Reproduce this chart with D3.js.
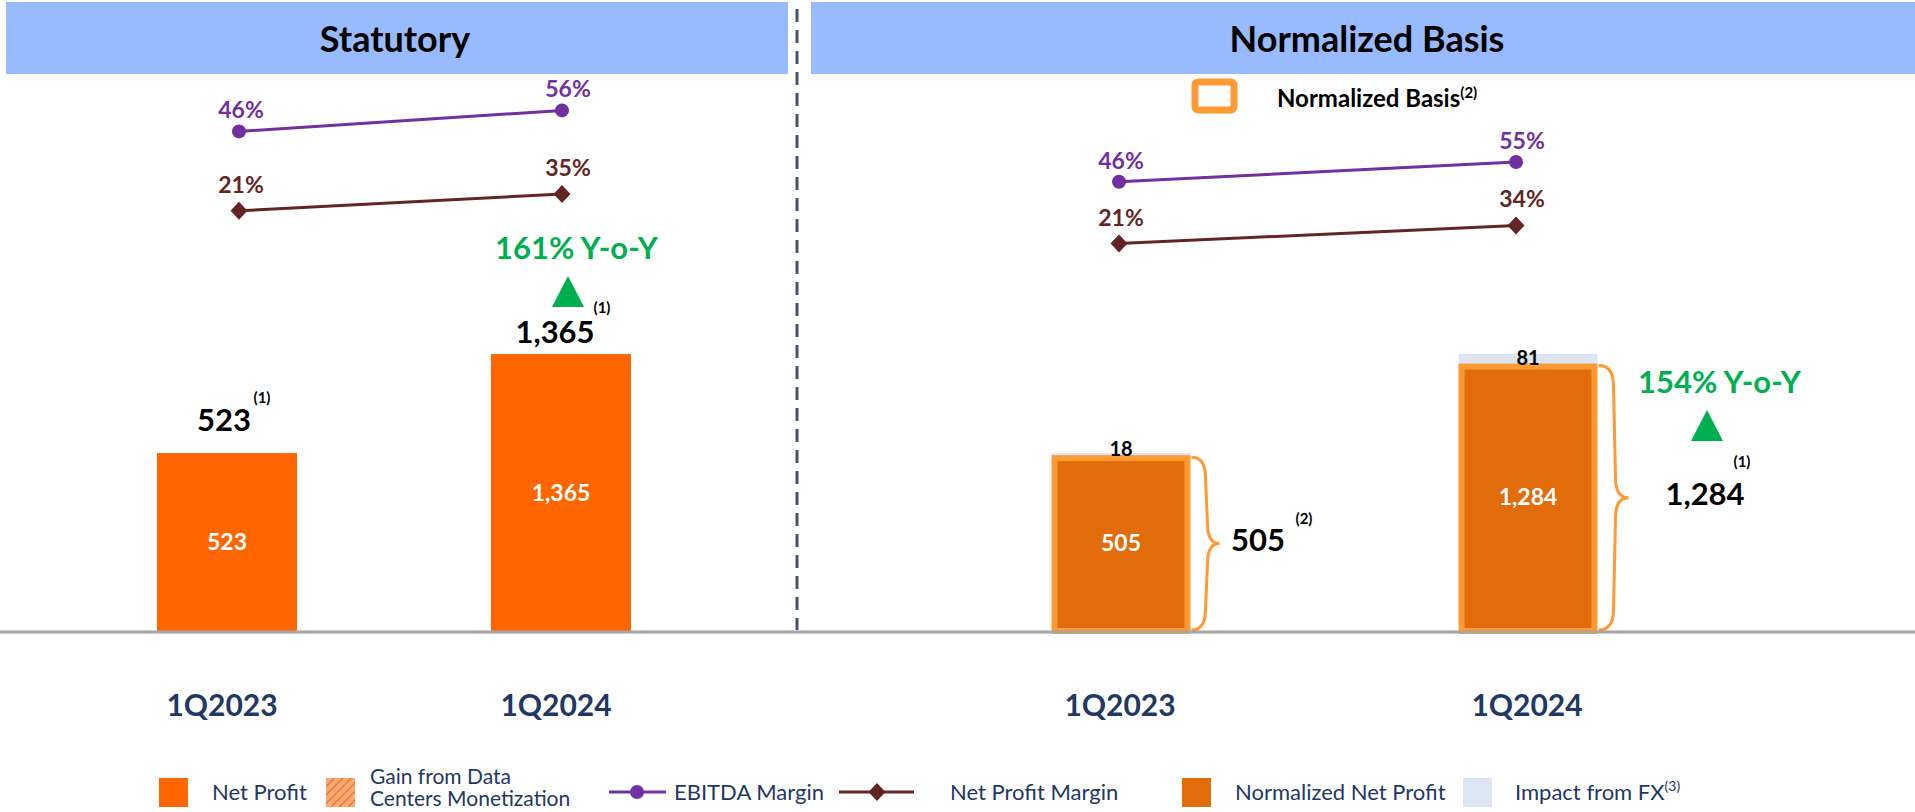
<!DOCTYPE html>
<html>
<head>
<meta charset="utf-8">
<script src="https://cdn.jsdelivr.net/npm/d3@7"></script>
<style>
  html, body { margin: 0; padding: 0; background: #fff; }
  svg { display: block; font-family: Lato, "Noto Sans", sans-serif; }
</style>
</head>
<body>
<div id="root"></div>
<script>
const WIDTH = 1915;
const HEIGHT = 812;
const BASE_Y = 631;

// data
const periods = ["1Q2023", "1Q2024"];
const netProfit = [523, 1365];
const normalizedNetProfit = [505, 1284];
const fxImpact = [18, 81];
const ebitdaStat = [46, 56];
const npMarginStat = [21, 35];
const ebitdaNorm = [46, 55];
const npMarginNorm = [21, 34];
const panelTitles = ["Statutory", "Normalized Basis"];
const yoyLabels = ["161% Y-o-Y", "154% Y-o-Y"];

const C = {
  band: "#98BAFE",
  orange: "#FF6600",
  normFill: "#E36C0A",
  normEdge: "#FF9A35",
  fx: "#DCE6F2",
  purple: "#7030A0",
  maroon: "#632523",
  green: "#00B050",
  navy: "#1F3864",
  axis: "#A6A6A6",
  divider: "#44546A"
};

const fmt = d3.format(",");

const svg = d3.select("#root")
    .append("svg")
    .attr("width", WIDTH)
    .attr("height", HEIGHT);

const defs = svg.append("defs");
const hatch = defs.append("pattern")
    .attr("id", "hatch")
    .attr("width", 6).attr("height", 6)
    .attr("patternUnits", "userSpaceOnUse")
    .attr("patternTransform", "rotate(45)");
hatch.append("rect").attr("width", 6).attr("height", 6).attr("fill", "#FBAA78");
hatch.append("line").attr("x1", 0).attr("y1", 0).attr("x2", 0).attr("y2", 6)
    .attr("stroke", "#F26B1D").attr("stroke-width", 2.5);

// value axis of the source chart does not start at zero
const yBar = d3.scaleLinear()
    .domain([-990, 1365])
    .range([BASE_Y, 354]);

const xStat = d3.scalePoint().domain(periods).range([227, 561]);
const xNorm = d3.scalePoint().domain(periods).range([1121, 1528]);
const xStatLine = d3.scalePoint().domain(periods).range([239, 562]);
const xNormLine = d3.scalePoint().domain(periods).range([1119, 1516]);

// margin lines sit on their own secondary scales
const yEbitdaStat = d3.scaleLinear().domain([0, 100]).range([228, 18]);
const yNpmStat = d3.scaleLinear().domain([0, 100]).range([236, 116]);
const yEbitdaNorm = d3.scaleLinear().domain([0, 100]).range([283, 63]);
const yNpmNorm = d3.scaleLinear().domain([0, 100]).range([273, 133]);

// header bands
const bands = [{x: 6, w: 782, cx: 395}, {x: 811, w: 1104, cx: 1367}];
svg.selectAll(".band")
    .data(bands)
    .enter()
    .append("rect")
    .attr("x", d => d.x)
    .attr("y", 2)
    .attr("width", d => d.w)
    .attr("height", 72)
    .attr("fill", C.band);

svg.selectAll(".title")
    .data(bands)
    .enter()
    .append("text")
    .attr("x", d => d.cx)
    .attr("y", 52)
    .attr("text-anchor", "middle")
    .attr("font-size", 36)
    .attr("font-weight", 700)
    .attr("fill", "#000")
    .text((d, i) => panelTitles[i]);

// dashed divider
svg.append("line")
    .attr("x1", 797).attr("x2", 797)
    .attr("y1", 9).attr("y2", 630)
    .attr("stroke", C.divider)
    .attr("stroke-width", 3)
    .attr("stroke-dasharray", "13 8");

// ---- Statutory bars
const BAR_W = 140;
svg.selectAll(".statBar")
    .data(netProfit)
    .enter()
    .append("rect")
    .attr("x", (d, i) => xStat(periods[i]) - BAR_W / 2)
    .attr("y", d => yBar(d))
    .attr("width", BAR_W)
    .attr("height", d => BASE_Y - yBar(d))
    .attr("fill", C.orange);

svg.selectAll(".statIn")
    .data(netProfit)
    .enter()
    .append("text")
    .attr("x", (d, i) => xStat(periods[i]))
    .attr("y", d => (yBar(d) + BASE_Y) / 2 + 8)
    .attr("text-anchor", "middle")
    .attr("font-size", 23)
    .attr("font-weight", 700)
    .attr("fill", "#fff")
    .text(d => fmt(d));

// totals above bars
const statTopGap = [22, 11];
const statTop = svg.selectAll(".statTop")
    .data(netProfit)
    .enter()
    .append("g");
statTop.append("text")
    .attr("x", (d, i) => xStat(periods[i]) - 3 - 3 * i)
    .attr("y", (d, i) => yBar(d) - statTopGap[i])
    .attr("text-anchor", "middle")
    .attr("font-size", 31)
    .attr("font-weight", 700)
    .attr("fill", "#000")
    .text(d => fmt(d));
statTop.append("text")
    .attr("x", (d, i) => xStat(periods[i]) + (i ? 41 : 35))
    .attr("y", (d, i) => yBar(d) - (i ? 41 : 50))
    .attr("text-anchor", "middle")
    .attr("font-size", 15)
    .attr("font-weight", 700)
    .attr("fill", "#000")
    .text("(1)");

// ---- Normalized bars
const NBAR_W = 139;
svg.selectAll(".fxBar")
    .data(fxImpact)
    .enter()
    .append("rect")
    .attr("x", (d, i) => xNorm(periods[i]) - NBAR_W / 2)
    .attr("y", (d, i) => yBar(normalizedNetProfit[i] + d))
    .attr("width", NBAR_W)
    .attr("height", (d, i) => yBar(normalizedNetProfit[i]) - yBar(normalizedNetProfit[i] + d) + 4)
    .attr("fill", C.fx);

svg.selectAll(".normBar")
    .data(normalizedNetProfit)
    .enter()
    .append("rect")
    .attr("x", (d, i) => xNorm(periods[i]) - NBAR_W / 2 + 3)
    .attr("y", d => yBar(d) + 3)
    .attr("width", NBAR_W - 6)
    .attr("height", d => BASE_Y - yBar(d) - 3)
    .attr("fill", C.normFill)
    .attr("stroke", C.normEdge)
    .attr("stroke-width", 6);

svg.selectAll(".normIn")
    .data(normalizedNetProfit)
    .enter()
    .append("text")
    .attr("x", (d, i) => xNorm(periods[i]))
    .attr("y", d => (yBar(d) + BASE_Y) / 2 + 8)
    .attr("text-anchor", "middle")
    .attr("font-size", 23)
    .attr("font-weight", 700)
    .attr("fill", "#fff")
    .text(d => fmt(d));

svg.selectAll(".fxLabel")
    .data(fxImpact)
    .enter()
    .append("text")
    .attr("x", (d, i) => xNorm(periods[i]))
    .attr("y", (d, i) => yBar(normalizedNetProfit[i]) + 1)
    .attr("text-anchor", "middle")
    .attr("font-size", 20)
    .attr("font-weight", 700)
    .attr("fill", "#000")
    .text(d => fmt(d));

// curly braces right of the normalized bars
function bracePath(x0, top, bot, w) {
    const mid = (top + bot) / 2;
    const xm = x0 + w * 0.5;
    const r = 20;
    return `M${x0},${top} Q${xm},${top} ${xm},${top + r} ` +
        `L${xm + 2},${mid - r} Q${xm + 2},${mid} ${x0 + w},${mid} ` +
        `Q${xm + 2},${mid} ${xm + 2},${mid + r} L${xm},${bot - r} ` +
        `Q${xm},${bot} ${x0},${bot}`;
}

svg.selectAll(".brace")
    .data(normalizedNetProfit)
    .enter()
    .append("path")
    .attr("d", (d, i) => bracePath(xNorm(periods[i]) + NBAR_W / 2 + 1, yBar(d) + 2, BASE_Y - 1, i ? 30 : 28))
    .attr("fill", "none")
    .attr("stroke", C.normEdge)
    .attr("stroke-width", 3);

// brace labels
const braceLbl = svg.selectAll(".braceLbl")
    .data(normalizedNetProfit)
    .enter()
    .append("g");
braceLbl.append("text")
    .attr("x", (d, i) => i ? 1705 : 1258)
    .attr("y", d => (yBar(d) + BASE_Y) / 2 + 8)
    .attr("text-anchor", "middle")
    .attr("font-size", 31)
    .attr("font-weight", 700)
    .attr("fill", "#000")
    .text(d => fmt(d));
braceLbl.append("text")
    .attr("x", (d, i) => i ? 1742 : 1304)
    .attr("y", (d, i) => (yBar(d) + BASE_Y) / 2 + (i ? -30 : -19))
    .attr("text-anchor", "middle")
    .attr("font-size", 15)
    .attr("font-weight", 700)
    .attr("fill", "#000")
    .text((d, i) => i ? "(1)" : "(2)");

// Y-o-Y growth callouts
const yoyPos = [{x: 495, y: 259, tx: 568, ty: 276}, {x: 1638, y: 393, tx: 1707, ty: 410}];
svg.selectAll(".yoy")
    .data(yoyLabels)
    .enter()
    .append("text")
    .attr("x", (d, i) => yoyPos[i].x)
    .attr("y", (d, i) => yoyPos[i].y)
    .attr("font-size", 31)
    .attr("font-weight", 700)
    .attr("fill", C.green)
    .text(d => d);

svg.selectAll(".tri")
    .data(yoyPos)
    .enter()
    .append("path")
    .attr("d", d => `M${d.tx},${d.ty} L${d.tx + 16},${d.ty + 31} L${d.tx - 16},${d.ty + 31} Z`)
    .attr("fill", C.green);

// ---- margin lines
const diamondPath = "M0,-9 L8.5,0 L0,9 L-8.5,0 Z";

function marginLine(values, xs, ys, color, marker, lblDy) {
    const pts = values.map((v, i) => [xs(periods[i]), ys(v)]);
    svg.append("path")
        .attr("d", d3.line()(pts))
        .attr("fill", "none")
        .attr("stroke", color)
        .attr("stroke-width", 3);
    const g = svg.append("g");
    if (marker === "circle") {
        g.selectAll("circle")
            .data(pts)
            .enter()
            .append("circle")
            .attr("cx", d => d[0])
            .attr("cy", d => d[1])
            .attr("r", 7)
            .attr("fill", color);
    } else {
        g.selectAll("path")
            .data(pts)
            .enter()
            .append("path")
            .attr("d", diamondPath)
            .attr("transform", d => `translate(${d[0]},${d[1]})`)
            .attr("fill", color);
    }
    g.selectAll("text")
        .data(values)
        .enter()
        .append("text")
        .attr("x", (d, i) => pts[i][0] + 2 + 4 * i)
        .attr("y", (d, i) => pts[i][1] - lblDy)
        .attr("text-anchor", "middle")
        .attr("font-size", 23)
        .attr("font-weight", 700)
        .attr("fill", color)
        .text(d => d + "%");
}

marginLine(ebitdaStat, xStatLine, yEbitdaStat, C.purple, "circle", 13);
marginLine(npMarginStat, xStatLine, yNpmStat, C.maroon, "diamond", 18);
marginLine(ebitdaNorm, xNormLine, yEbitdaNorm, C.purple, "circle", 13);
marginLine(npMarginNorm, xNormLine, yNpmNorm, C.maroon, "diamond", 18);

// normalized basis key
svg.append("rect")
    .attr("x", 1195).attr("y", 82)
    .attr("width", 39).attr("height", 28)
    .attr("rx", 3)
    .attr("fill", "#fff")
    .attr("stroke", C.normEdge)
    .attr("stroke-width", 7);
const nbKey = svg.append("text")
    .attr("x", 1277).attr("y", 107)
    .attr("font-size", 24)
    .attr("font-weight", 700)
    .attr("fill", "#000");
nbKey.append("tspan").text("Normalized Basis");
nbKey.append("tspan").attr("dy", -9).attr("font-size", 15).text("(2)");

// baseline
svg.append("line")
    .attr("x1", 0).attr("x2", WIDTH)
    .attr("y1", 632).attr("y2", 632)
    .attr("stroke", C.axis)
    .attr("stroke-width", 3);

// category labels
const cats = periods.map(p => ({p, x: xStat(p) - 5})).concat(periods.map(p => ({p, x: xNorm(p) - 1})));
svg.selectAll(".cat")
    .data(cats)
    .enter()
    .append("text")
    .attr("x", d => d.x)
    .attr("y", 716)
    .attr("text-anchor", "middle")
    .attr("font-size", 30)
    .attr("font-weight", 700)
    .attr("fill", C.navy)
    .text(d => d.p);

// ---- legend
const legend = svg.append("g")
    .attr("font-size", 22)
    .attr("fill", C.navy);

legend.append("rect").attr("x", 159).attr("y", 778).attr("width", 29).attr("height", 29).attr("fill", C.orange);
legend.append("text").attr("x", 212).attr("y", 800).text("Net Profit");

legend.append("rect").attr("x", 326).attr("y", 778).attr("width", 29).attr("height", 29).attr("fill", "url(#hatch)");
legend.append("text").attr("x", 370).attr("y", 784).attr("font-size", 21).text("Gain from Data");
legend.append("text").attr("x", 370).attr("y", 806).attr("font-size", 21).text("Centers Monetization");

legend.append("line").attr("x1", 609).attr("x2", 666).attr("y1", 792).attr("y2", 792)
    .attr("stroke", C.purple).attr("stroke-width", 3);
legend.append("circle").attr("cx", 637).attr("cy", 792).attr("r", 7).attr("fill", C.purple);
legend.append("text").attr("x", 674).attr("y", 800).text("EBITDA Margin");

legend.append("line").attr("x1", 839).attr("x2", 914).attr("y1", 792).attr("y2", 792)
    .attr("stroke", C.maroon).attr("stroke-width", 3);
legend.append("path").attr("d", diamondPath).attr("transform", "translate(877,792)").attr("fill", C.maroon);
legend.append("text").attr("x", 950).attr("y", 800).text("Net Profit Margin");

legend.append("rect").attr("x", 1182).attr("y", 778).attr("width", 29).attr("height", 29).attr("fill", C.normFill);
legend.append("text").attr("x", 1235).attr("y", 800).text("Normalized Net Profit");

legend.append("rect").attr("x", 1463).attr("y", 778).attr("width", 29).attr("height", 29).attr("fill", C.fx);
const fxKey = legend.append("text").attr("x", 1515).attr("y", 800);
fxKey.append("tspan").text("Impact from FX");
fxKey.append("tspan").attr("dy", -9).attr("font-size", 14).text("(3)");
</script>
</body>
</html>
